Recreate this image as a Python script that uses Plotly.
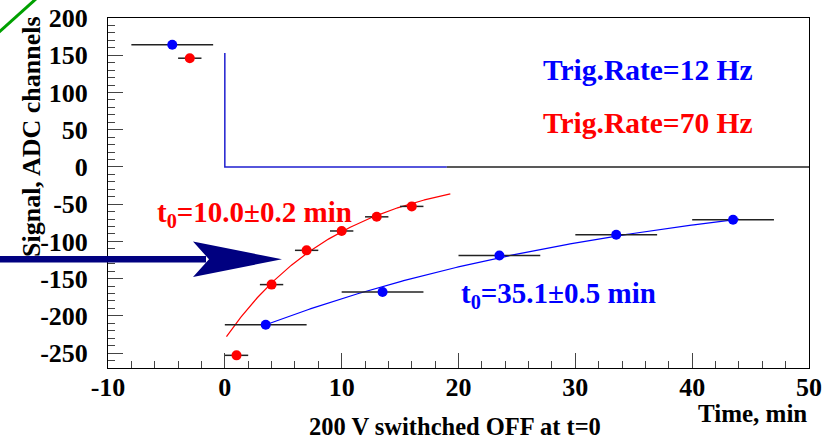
import numpy as np
import plotly.graph_objects as go

# ---- data ----
blue_t = [-4.5, 3.5, 13.5, 23.5, 33.5, 43.5]
blue_sig = [164, -212, -168, -119, -91, -71]
blue_terr = [3.5, 3.5, 3.5, 3.5, 3.5, 3.5]

red_t = [-3.0, 1.0, 4.0, 7.0, 10.0, 13.0, 16.0]
red_sig = [146, -253, -158, -112, -86, -67, -53]
red_terr = [1.0, 1.0, 1.0, 1.0, 1.0, 1.0, 1.0]

# exponential fits  y = offset + amp * exp(-t / t0)
red_fit = dict(t0=10.0, amp=-228.0, offset=-3.0, tmin=0.14, tmax=19.3)
blue_fit = dict(t0=35.1, amp=-229.0, offset=-4.7, tmin=3.5, tmax=44.0)

# voltage step (before / after switch-off)
step_t = [0, 0, 19]
step_sig = [153, 0, 0]
base_t = [19, 50]
base_sig = [0, 0]

x_ticks = [-10, 0, 10, 20, 30, 40, 50]
x_ticklabels = ["-10", "0", "10", "20", "30", "40", "50"]
y_ticks = [-250, -200, -150, -100, -50, 0, 50, 100, 150, 200]
y_ticklabels = ["-250", "-200", "-150", "-100", "-50", "0", "50", "100", "150", "200"]

# ---- layout geometry (pixels) ----
W, H = 827, 440
L, R, T, B = 108, 809, 18, 368
def px(xp):
    return (xp - L) / (R - L)
def py(yp):
    return (B - yp) / (B - T)

FONT = "Liberation Serif"

def fitcurve(p):
    t = np.linspace(p["tmin"], p["tmax"], 200)
    return t, p["offset"] + p["amp"] * np.exp(-t / p["t0"])

fig = go.Figure()

fig.add_trace(go.Scatter(x=step_t, y=step_sig, mode="lines",
                         line=dict(color="#1f1fcf", width=1.5), hoverinfo="skip"))
fig.add_trace(go.Scatter(x=base_t, y=base_sig, mode="lines",
                         line=dict(color="#222222", width=1.5), hoverinfo="skip"))

rt, ry = fitcurve(red_fit)
fig.add_trace(go.Scatter(x=rt, y=ry, mode="lines", line=dict(color="#ff0000", width=1.2)))
bt, by = fitcurve(blue_fit)
fig.add_trace(go.Scatter(x=bt, y=by, mode="lines", line=dict(color="#0000ff", width=1.2)))

fig.add_trace(go.Scatter(
    x=blue_t, y=blue_sig, mode="markers",
    marker=dict(color="#0000ff", size=10),
    error_x=dict(type="data", array=blue_terr, color="#222222", thickness=1.5, width=0)))
fig.add_trace(go.Scatter(
    x=red_t, y=red_sig, mode="markers",
    marker=dict(color="#ff0000", size=10),
    error_x=dict(type="data", array=red_terr, color="#222222", thickness=1.5, width=0)))

axis_common = dict(
    showgrid=False, zeroline=False, showline=True, linecolor="black", linewidth=1,
    mirror=True, ticks="inside", tickcolor="#444444", tickwidth=1, automargin=False,
    tickfont=dict(family=FONT, size=26, color="black", weight="bold"),
)
fig.update_xaxes(range=[-10, 50], tickvals=x_ticks, ticktext=x_ticklabels, ticklen=15,
                 minor=dict(dtick=2, ticklen=7, ticks="inside", tickcolor="#444444"),
                 ticklabelstandoff=-4, **axis_common)
fig.update_yaxes(range=[-270, 200], tickvals=y_ticks, ticktext=y_ticklabels, ticklen=15,
                 minor=dict(dtick=10, ticklen=7, ticks="inside", tickcolor="#444444"),
                 ticklabelstandoff=14, **axis_common)

ann = []
def text(x, y, s, size, color="black", xanchor="center", angle=0):
    ann.append(dict(x=px(x), y=py(y), xref="paper", yref="paper", text=s, showarrow=False,
                    xanchor=xanchor, yanchor="middle", textangle=angle,
                    font=dict(family=FONT, size=size, color=color, weight="bold")))

text(648, 70, "Trig.Rate=12 Hz", 29.5, "#0000ff")
text(648, 123, "Trig.Rate=70 Hz", 29.5, "#ff0000")
text(254, 214, "t<sub>0</sub>=10.0±0.2 min", 29, "#ff0000")
text(558, 295, "t<sub>0</sub>=35.1±0.5 min", 29, "#0000ff")
text(809, 413, "Time, min", 25, "black", xanchor="right")
text(455, 426, "200 V swithched OFF at t=0", 24.5, "black")
text(31, 137, "Signal, ADC channels", 26, "black", angle=-90)

shapes = []
# arrow (navy)
def P(x, y):
    return f"{px(x):.5f},{py(y):.5f}"
shapes.append(dict(type="rect", xref="paper", yref="paper",
                   x0=px(0), x1=px(206), y0=py(256), y1=py(262.5),
                   fillcolor="#000080", line=dict(width=0), layer="above"))
shapes.append(dict(type="path", xref="paper", yref="paper",
                   path=f"M{P(193,241.5)} L{P(282,259.3)} L{P(193,277)} L{P(209,259.3)} Z",
                   fillcolor="#000080", line=dict(width=0), layer="above"))
# green corner line
shapes.append(dict(type="line", xref="paper", yref="paper",
                   x0=px(-2), y0=py(33), x1=px(37), y1=py(-2),
                   line=dict(color="#00a000", width=3)))

fig.update_layout(
    width=W, height=H, autosize=False,
    margin=dict(l=L, r=W - R, t=T, b=H - B),
    paper_bgcolor="white", plot_bgcolor="white",
    showlegend=False, annotations=ann, shapes=shapes,
)

fig.write_html("out.html")
